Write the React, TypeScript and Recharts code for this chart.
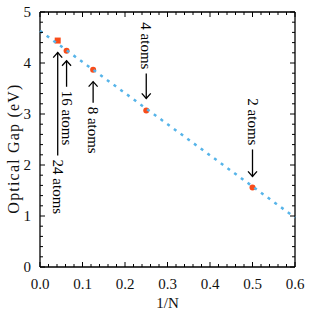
import React from 'react';
import { ComposedChart, Scatter, XAxis, YAxis } from 'recharts';

// cluster size N, 1/N and the optical gap in eV
const atomCounts = [24, 16, 8, 4, 2];
const inverseN = [1 / 24, 1 / 16, 1 / 8, 1 / 4, 1 / 2];
const opticalGap = [4.44, 4.24, 3.87, 3.07, 1.56];

// linear fit, read at the two ends of the x range
const fitX = [0, 0.6];
const fitGap = [4.63, 0.97];

const xTicks = Array.from({ length: 31 }, (_, i) => +(i * 0.02).toFixed(2));
const yTicks = Array.from({ length: 26 }, (_, i) => +(i * 0.2).toFixed(1));

const points = atomCounts.map((n, i) => ({ atoms: n, x: inverseN[i], y: opticalGap[i] }));
const fitLine = fitX.map((x, i) => ({ x, y: fitGap[i] }));

const FONT = '"Liberation Serif", "DejaVu Serif", serif';
const POINT_COLOR = '#f84c1a';
const FIT_COLOR = '#56b4e9';

// arrow layout around each point (pixels)
const arrowLayout: Record<number, { dir: 'up' | 'down'; gap: number; len: number; square?: boolean }> = {
  24: { dir: 'up', gap: 12, len: 103, square: true },
  16: { dir: 'up', gap: 10, len: 26 },
  8: { dir: 'up', gap: 12, len: 21 },
  4: { dir: 'down', gap: 12, len: 25 },
  2: { dir: 'down', gap: 11, len: 27 },
};

let measureCtx: CanvasRenderingContext2D | null = null;
const textWidth = (str: string) => {
  if (!measureCtx) measureCtx = document.createElement('canvas').getContext('2d');
  if (!measureCtx) return str.length * 7;
  measureCtx.font = '15px "Liberation Serif"';
  return measureCtx.measureText(str).width;
};

const isMajor = (v: number, step: number) => Math.abs(v / step - Math.round(v / step)) < 1e-6;

const PointShape = (props: any) => {
  const { cx, cy, payload } = props;
  const lay = arrowLayout[payload.atoms];
  const s = lay.dir === 'up' ? 1 : -1;
  const tipY = cy + s * lay.gap;
  const tailY = tipY + s * lay.len;
  const label = `${payload.atoms} atoms`;
  // text always runs downwards; labels above the arrow start one text length higher
  const startY = s > 0 ? tailY + 4 : tailY - 4 - textWidth(label);
  return (
    <g>
      {lay.square ? (
        <rect x={cx - 3} y={cy - 3} width={6} height={6} fill={POINT_COLOR} />
      ) : (
        <circle cx={cx} cy={cy} r={3} fill={POINT_COLOR} />
      )}
      <line x1={cx} y1={tipY} x2={cx} y2={tailY} stroke="#000" strokeWidth={1.3} />
      <polyline
        points={`${cx - 4.5},${tipY + s * 5} ${cx},${tipY} ${cx + 4.5},${tipY + s * 5}`}
        fill="none"
        stroke="#000"
        strokeWidth={1.3}
      />
      <g transform={`translate(${cx} ${startY}) rotate(90)`}>
        <text x={0} y={0} dy="0.33em" textAnchor="start" fontFamily={FONT} fontSize={15} fill="#000">
          {label}
        </text>
      </g>
    </g>
  );
};

const BottomTick = (props: any) => {
  const { x, y, payload } = props;
  const major = isMajor(payload.value, 0.1);
  return (
    <g>
      <line x1={x} y1={y} x2={x} y2={y - (major ? 5 : 3)} stroke="#000" strokeWidth={1} />
      {major && (
        <text x={x} y={y + 22} textAnchor="middle" fontFamily={FONT} fontSize={15} fill="#111">
          {payload.value.toFixed(1)}
        </text>
      )}
    </g>
  );
};

const TopTick = (props: any) => {
  const { x, y, payload } = props;
  const major = isMajor(payload.value, 0.1);
  return <line x1={x} y1={y} x2={x} y2={y + (major ? 5 : 3)} stroke="#000" strokeWidth={1} />;
};

const LeftTick = (props: any) => {
  const { x, y, payload } = props;
  const major = isMajor(payload.value, 1);
  return (
    <g>
      <line x1={x} y1={y} x2={x + (major ? 5 : 3)} y2={y} stroke="#000" strokeWidth={1} />
      {major && (
        <text x={x - 9} y={y} dy="0.35em" textAnchor="end" fontFamily={FONT} fontSize={15} fill="#111">
          {payload.value}
        </text>
      )}
    </g>
  );
};

const RightTick = (props: any) => {
  const { x, y, payload } = props;
  const major = isMajor(payload.value, 1);
  return <line x1={x} y1={y} x2={x - (major ? 5 : 3)} y2={y} stroke="#000" strokeWidth={1} />;
};

const axisLine = { stroke: '#000', strokeWidth: 1.3 };
const NoMark = () => <g />;

export default function App() {
  return (
    <div style={{ position: 'absolute', left: 0, top: 0, width: 315, height: 315, background: '#fff' }}>
      <ComposedChart width={315} height={315} margin={{ top: 11, right: 19, bottom: 0, left: 0 }}>
        <XAxis
          type="number"
          dataKey="x"
          domain={[0, 0.6]}
          ticks={xTicks}
          interval={0}
          height={48}
          tickSize={0}
          tickMargin={0}
          tickLine={false}
          axisLine={axisLine}
          tick={<BottomTick />}
          label={{
            content: (p: any) => {
              const vb = p.viewBox;
              return (
                <text x={vb.x + vb.width / 2} y={vb.y + 41} textAnchor="middle" fontFamily={FONT} fontSize={15} fill="#111">
                  1/N
                </text>
              );
            },
          }}
        />
        <XAxis
          xAxisId="top"
          orientation="top"
          type="number"
          dataKey="x"
          domain={[0, 0.6]}
          ticks={xTicks}
          interval={0}
          height={1}
          tickSize={0}
          tickMargin={0}
          tickLine={false}
          axisLine={axisLine}
          tick={<TopTick />}
        />
        <YAxis
          type="number"
          dataKey="y"
          domain={[0, 5]}
          ticks={yTicks}
          interval={0}
          width={40}
          tickSize={0}
          tickMargin={0}
          tickLine={false}
          axisLine={axisLine}
          tick={<LeftTick />}
          label={{
            content: (p: any) => {
              const vb = p.viewBox;
              const cx = vb.x + 13;
              const cy = vb.y + vb.height / 2 + 9;
              return (
                <text
                  x={cx}
                  y={cy}
                  transform={`rotate(-90 ${cx} ${cy})`}
                  textAnchor="middle"
                  dominantBaseline="central"
                  fontFamily={FONT}
                  fontSize={16}
                  letterSpacing={1.2}
                  fill="#111"
                >
                  Optical Gap (eV)
                </text>
              );
            },
          }}
        />
        <YAxis
          yAxisId="right"
          orientation="right"
          type="number"
          dataKey="y"
          domain={[0, 5]}
          ticks={yTicks}
          interval={0}
          width={1}
          tickSize={0}
          tickMargin={0}
          tickLine={false}
          axisLine={axisLine}
          tick={<RightTick />}
        />
        {/* invisible series so the mirrored top/right axes get drawn */}
        <Scatter xAxisId="top" yAxisId="right" data={fitLine} shape={<NoMark />} isAnimationActive={false} />
        <Scatter data={points} shape={<PointShape />} isAnimationActive={false} />
        <Scatter
          data={fitLine}
          shape={<NoMark />}
          line={{ stroke: FIT_COLOR, strokeWidth: 2.5, strokeDasharray: '3 5.3' }}
          isAnimationActive={false}
        />
      </ComposedChart>
    </div>
  );
}
